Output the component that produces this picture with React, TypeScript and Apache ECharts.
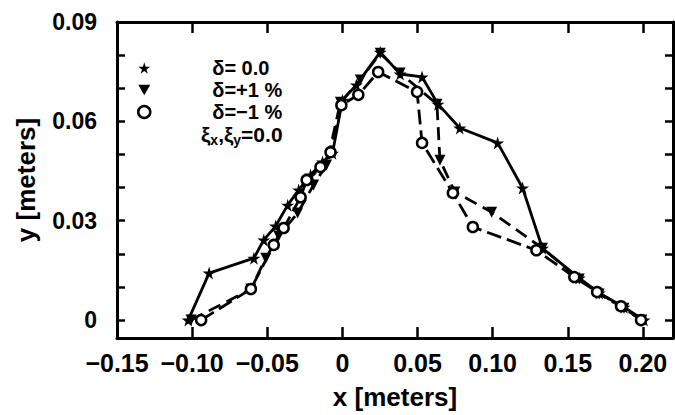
import React, { useEffect, useRef } from "react";
import * as echarts from "echarts";

// ---- tick values ----
const xTickValues = [-0.15, -0.1, -0.05, 0, 0.05, 0.1, 0.15, 0.2];
const yLabelValues = [0, 0.03, 0.06, 0.09];
const yTickValues = [0, 0.01, 0.02, 0.03, 0.04, 0.05, 0.06, 0.07, 0.08, 0.09];

// ---- legend texts ----
const legendNames = ["δ= 0.0", "δ=+1 %", "δ=−1 %"];

// ---- series: δ = 0.0 (stars) ----
const xZero = [-0.1026, -0.0887, -0.0589, -0.0523, -0.0444, -0.0364, -0.0291, -0.0212, -0.0132, -0.0066, 0.0, 0.0093, 0.0252, 0.0384, 0.053, 0.0636, 0.0781, 0.1033, 0.1199, 0.1331, 0.1576, 0.1709, 0.1874, 0.2007];
const yZero = [0.0, 0.0142, 0.0187, 0.0242, 0.0284, 0.0347, 0.0393, 0.0438, 0.0477, 0.0504, 0.0664, 0.071, 0.0809, 0.0743, 0.0734, 0.0652, 0.058, 0.0535, 0.0399, 0.0217, 0.0127, 0.0082, 0.0039, 0.0];

// ---- series: δ = +1 % (triangles) ----
const xPlus = [-0.1007, -0.0609, -0.051, -0.0424, -0.0298, -0.0192, -0.0106, -0.0013, 0.0119, 0.0252, 0.0384, 0.0629, 0.0649, 0.0748, 0.0993, 0.1331, 0.1576, 0.1709, 0.1874, 0.1993];
const yPlus = [0.0, 0.0094, 0.0187, 0.0254, 0.0323, 0.0408, 0.0468, 0.0658, 0.0725, 0.0806, 0.0746, 0.0652, 0.0483, 0.0387, 0.0326, 0.0217, 0.0124, 0.0079, 0.0036, 0.0];

// ---- series: δ = −1 % (open circles) ----
const xMinus = [-0.094, -0.0609, -0.0457, -0.0391, -0.0278, -0.0238, -0.0146, -0.0079, -0.0007, 0.0106, 0.0238, 0.0497, 0.053, 0.0735, 0.0868, 0.1291, 0.1543, 0.1695, 0.1854, 0.1987];
const yMinus = [0.0, 0.0094, 0.0227, 0.0278, 0.0371, 0.0423, 0.0462, 0.0507, 0.0649, 0.068, 0.0749, 0.0689, 0.0535, 0.0384, 0.0281, 0.0211, 0.013, 0.0085, 0.0042, 0.0];

const STAR = "path://M50,0L61,35L98,35L68,57L79,91L50,70L21,91L32,57L2,35L39,35Z";
const TRI = "path://M0,0L100,0L50,87Z";
const FONT = "'Liberation Sans', Arial, sans-serif";
const NARROW = "'Liberation Sans Narrow', 'Liberation Sans', Arial, sans-serif";

const zip = (xs: number[], ys: number[]) => xs.map((x, i) => [x, ys[i]]);

const fmtX = (v: number) => {
  if (Math.abs(v) < 1e-9) return "0";
  return (v < 0 ? "−" : "") + Math.abs(v).toFixed(2);
};
const fmtY = (v: number) => (Math.abs(v) < 1e-9 ? "0" : v.toFixed(2));

export default function App() {
  const ref = useRef<HTMLDivElement>(null);
  useEffect(() => {
    if (!ref.current) return;
    const chart = echarts.init(ref.current, undefined, { renderer: "svg" });
    const axisLine = { show: true, onZero: false, lineStyle: { color: "#000", width: 3 } };
    const option: any = {
      animation: false,
      backgroundColor: "#fff",
      grid: { left: 117, right: 2, top: 22, bottom: 77, containLabel: false },
      xAxis: [
        {
          type: "value",
          position: "bottom",
          min: -0.15,
          max: 0.22,
          axisLine,
          splitLine: { show: false },
          axisTick: { show: true, inside: true, length: 11, customValues: xTickValues, lineStyle: { color: "#000", width: 2.5 } },
          axisLabel: {
            customValues: xTickValues,
            formatter: fmtX,
            color: "#000",
            fontFamily: FONT,
            fontWeight: "bold",
            fontSize: 25,
            margin: 12,
          },
          name: "x [meters]",
          nameLocation: "middle",
          nameGap: 46,
          nameTextStyle: { color: "#000", fontFamily: FONT, fontWeight: "bold", fontSize: 26 },
        },
        {
          type: "value",
          position: "top",
          min: -0.15,
          max: 0.22,
          axisLine,
          splitLine: { show: false },
          axisTick: { show: true, inside: true, length: 11, customValues: xTickValues, lineStyle: { color: "#000", width: 2.5 } },
          axisLabel: { show: false },
        },
      ],
      yAxis: [
        {
          type: "value",
          position: "left",
          min: -0.0054,
          max: 0.09,
          axisLine,
          splitLine: { show: false },
          axisTick: { show: true, inside: true, length: 8, customValues: yTickValues, lineStyle: { color: "#000", width: 2.5 } },
          axisLabel: {
            customValues: yLabelValues,
            formatter: fmtY,
            color: "#000",
            fontFamily: NARROW,
            fontWeight: "bold",
            fontSize: 23,
            margin: 20,
          },
          name: "y [meters]",
          nameLocation: "middle",
          nameGap: 78,
          nameTextStyle: { color: "#000", fontFamily: FONT, fontWeight: "bold", fontSize: 26 },
        },
        {
          type: "value",
          position: "right",
          min: -0.0054,
          max: 0.09,
          axisLine,
          splitLine: { show: false },
          axisTick: { show: true, inside: true, length: 8, customValues: yTickValues, lineStyle: { color: "#000", width: 2.5 } },
          axisLabel: { show: false },
        },
      ],
      legend: {
        orient: "vertical",
        left: 137,
        top: 57,
        padding: 0,
        itemWidth: 12,
        itemHeight: 12,
        itemGap: 0,
        textStyle: { color: "#000", fontFamily: FONT, fontWeight: "bold", fontSize: 20, lineHeight: 22, padding: [0, 0, 0, 57] },
        data: [
          { name: legendNames[0], icon: STAR, itemStyle: { color: "#000", borderWidth: 0 } },
          { name: legendNames[1], icon: TRI, itemStyle: { color: "#000", borderWidth: 0 } },
          { name: legendNames[2], icon: "circle", itemStyle: { color: "#fff", borderColor: "#000", borderWidth: 2.5 } },
        ],
      },
      graphic: [
        {
          type: "text",
          left: 201,
          top: 124,
          style: {
            text: "{a|ξ}{s|x}{a|,ξ}{s|y}{a|=0.0}",
            rich: {
              a: { fontFamily: FONT, fontWeight: "bold", fontSize: 21, fill: "#000", lineHeight: 24, verticalAlign: "middle" },
              s: { fontFamily: FONT, fontWeight: "bold", fontSize: 14, fill: "#000", lineHeight: 24, verticalAlign: "bottom" },
            },
          },
        },
      ],
      series: [
        {
          name: legendNames[0],
          type: "line",
          data: zip(xZero, yZero),
          symbol: STAR,
          symbolSize: 13,
          itemStyle: { color: "#000" },
          lineStyle: { color: "#000", width: 2.8, type: "solid" },
          z: 3,
        },
        {
          name: legendNames[1],
          type: "line",
          data: zip(xPlus, yPlus),
          symbol: TRI,
          symbolSize: 11,
          itemStyle: { color: "#000" },
          lineStyle: { color: "#000", width: 2.8, type: [13, 7] },
          z: 4,
        },
        {
          name: legendNames[2],
          type: "line",
          data: zip(xMinus, yMinus),
          symbol: "circle",
          symbolSize: 10,
          itemStyle: { color: "#fff", borderColor: "#000", borderWidth: 2.5 },
          lineStyle: { color: "#000", width: 2.8, type: [15, 6] },
          z: 5,
        },
      ],
    };
    chart.setOption(option);
    return () => chart.dispose();
  }, []);
  return (
    <div
      ref={ref}
      style={{ position: "fixed", left: 0, top: 0, width: 675, height: 415, background: "#fff" }}
    />
  );
}
